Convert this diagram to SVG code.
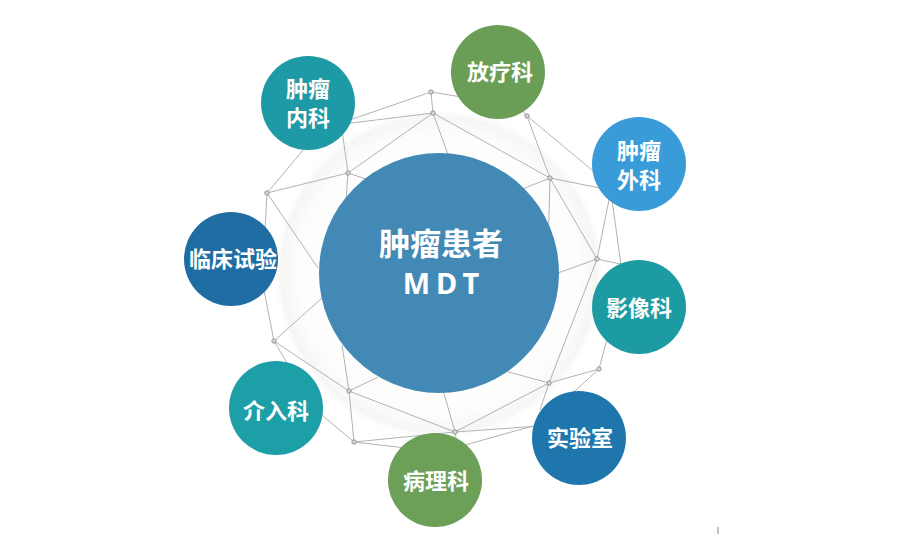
<svg xmlns="http://www.w3.org/2000/svg" width="900" height="549" viewBox="0 0 900 549">
<defs>
<radialGradient id="sphere" cx="50%" cy="50%" r="50%">
<stop offset="0" stop-color="#ffffff"/>
<stop offset="0.84" stop-color="#fdfdfc"/>
<stop offset="0.95" stop-color="#f6f6f5"/>
<stop offset="1" stop-color="#ffffff" stop-opacity="0"/>
</radialGradient>
<style>
.wire line{stroke:#a9a9a9;stroke-width:0.9;fill:none}
.vtx{fill:#d8d8d8;stroke:#8c8c8c;stroke-width:0.9}
.lbl{font-family:"Noto Sans CJK SC","Noto Sans",sans-serif;font-weight:700;fill:#ffffff;text-anchor:middle;font-size:22px}
.big{font-size:31px}
.mdt{font-family:"Noto Sans","DejaVu Sans",sans-serif;font-weight:700;fill:#ffffff;text-anchor:middle;font-size:29px;letter-spacing:6px}
</style>
</defs>
<rect width="900" height="549" fill="#ffffff"/>
<circle cx="439" cy="274" r="166" fill="url(#sphere)"/>
<g id="connectors" class="wire">
<line x1="431" y1="92" x2="433" y2="113"/>
<line x1="431" y1="92" x2="335" y2="125"/>
<line x1="431" y1="92" x2="480" y2="100"/>
<line x1="433" y1="113" x2="335" y2="125"/>
<line x1="433" y1="113" x2="348" y2="173"/>
<line x1="433" y1="113" x2="550" y2="178"/>
<line x1="433" y1="113" x2="450" y2="160"/>
<line x1="527" y1="116" x2="510" y2="95"/>
<line x1="527" y1="116" x2="550" y2="178"/>
<line x1="527" y1="116" x2="610" y2="185"/>
<line x1="550" y1="178" x2="515" y2="192"/>
<line x1="550" y1="178" x2="548" y2="250"/>
<line x1="550" y1="178" x2="597" y2="259"/>
<line x1="550" y1="178" x2="610" y2="190"/>
<line x1="597" y1="259" x2="555" y2="274"/>
<line x1="597" y1="259" x2="610" y2="195"/>
<line x1="597" y1="259" x2="625" y2="265"/>
<line x1="597" y1="259" x2="549" y2="383"/>
<line x1="612" y1="200" x2="622" y2="272"/>
<line x1="599" y1="369" x2="608" y2="335"/>
<line x1="599" y1="369" x2="549" y2="383"/>
<line x1="599" y1="369" x2="565" y2="400"/>
<line x1="549" y1="383" x2="505" y2="371"/>
<line x1="549" y1="383" x2="455" y2="432"/>
<line x1="549" y1="383" x2="540" y2="410"/>
<line x1="455" y1="432" x2="443" y2="390"/>
<line x1="455" y1="432" x2="349" y2="391"/>
<line x1="455" y1="432" x2="354" y2="442"/>
<line x1="455" y1="432" x2="458" y2="450"/>
<line x1="455" y1="432" x2="540" y2="426"/>
<line x1="354" y1="442" x2="440" y2="452"/>
<line x1="440" y1="452" x2="540" y2="424"/>
<line x1="349" y1="391" x2="342" y2="345"/>
<line x1="349" y1="391" x2="378" y2="377"/>
<line x1="349" y1="391" x2="354" y2="442"/>
<line x1="349" y1="391" x2="274" y2="341"/>
<line x1="354" y1="442" x2="310" y2="405"/>
<line x1="274" y1="341" x2="262" y2="280"/>
<line x1="274" y1="341" x2="322" y2="298"/>
<line x1="274" y1="341" x2="300" y2="385"/>
<line x1="267" y1="193" x2="348" y2="173"/>
<line x1="267" y1="193" x2="320" y2="130"/>
<line x1="267" y1="193" x2="265" y2="230"/>
<line x1="267" y1="193" x2="318" y2="268"/>
<line x1="348" y1="173" x2="342" y2="130"/>
<line x1="348" y1="173" x2="366" y2="179"/>
<line x1="348" y1="173" x2="346" y2="200"/>
</g>
<g id="vertices">
<circle class="vtx" cx="431" cy="92" r="2.2"/>
<circle class="vtx" cx="433" cy="113" r="2.2"/>
<circle class="vtx" cx="348" cy="173" r="2.2"/>
<circle class="vtx" cx="267" cy="193" r="2.2"/>
<circle class="vtx" cx="527" cy="116" r="2.2"/>
<circle class="vtx" cx="550" cy="178" r="2.2"/>
<circle class="vtx" cx="597" cy="259" r="2.2"/>
<circle class="vtx" cx="599" cy="369" r="2.2"/>
<circle class="vtx" cx="549" cy="383" r="2.2"/>
<circle class="vtx" cx="455" cy="432" r="2.2"/>
<circle class="vtx" cx="349" cy="391" r="2.2"/>
<circle class="vtx" cx="354" cy="442" r="2.2"/>
<circle class="vtx" cx="274" cy="341" r="2.2"/>
</g>
<g id="center">
<circle cx="439" cy="273" r="120" fill="#4389b6"/>
<text class="lbl big" x="441" y="255">肿瘤患者</text>
<text class="mdt" x="444" y="294">MDT</text>
</g>
<g id="n-zlnk">
<circle cx="308" cy="103" r="47" fill="#1e9aa6"/>
<text class="lbl" x="308" y="97">肿瘤<tspan x="308" y="126">内科</tspan></text>
</g>
<g id="n-flk">
<circle cx="498" cy="72" r="47" fill="#6a9e57"/>
<text class="lbl" x="500" y="80">放疗科</text>
</g>
<g id="n-zlwk">
<circle cx="639" cy="164" r="47" fill="#3a9bd9"/>
<text class="lbl" x="639" y="159">肿瘤<tspan x="639" y="188">外科</tspan></text>
</g>
<g id="n-yxk">
<circle cx="639" cy="307" r="47" fill="#1c9ba3"/>
<text class="lbl" x="639" y="316">影像科</text>
</g>
<g id="n-sys">
<circle cx="579" cy="438" r="47" fill="#1f76ad"/>
<text class="lbl" x="580" y="446">实验室</text>
</g>
<g id="n-blk">
<circle cx="435" cy="480" r="47" fill="#6c9f58"/>
<text class="lbl" x="436" y="489">病理科</text>
</g>
<g id="n-jrk">
<circle cx="276" cy="408" r="47" fill="#1d9fa8"/>
<text class="lbl" x="276" y="419">介入科</text>
</g>
<g id="n-lcsy">
<circle cx="231" cy="259" r="47" fill="#1f6da3"/>
<text class="lbl" x="233" y="267">临床试验</text>
</g>
<line x1="718" y1="527" x2="718" y2="534" stroke="#9a9a9a" stroke-width="1.2"/>
</svg>
